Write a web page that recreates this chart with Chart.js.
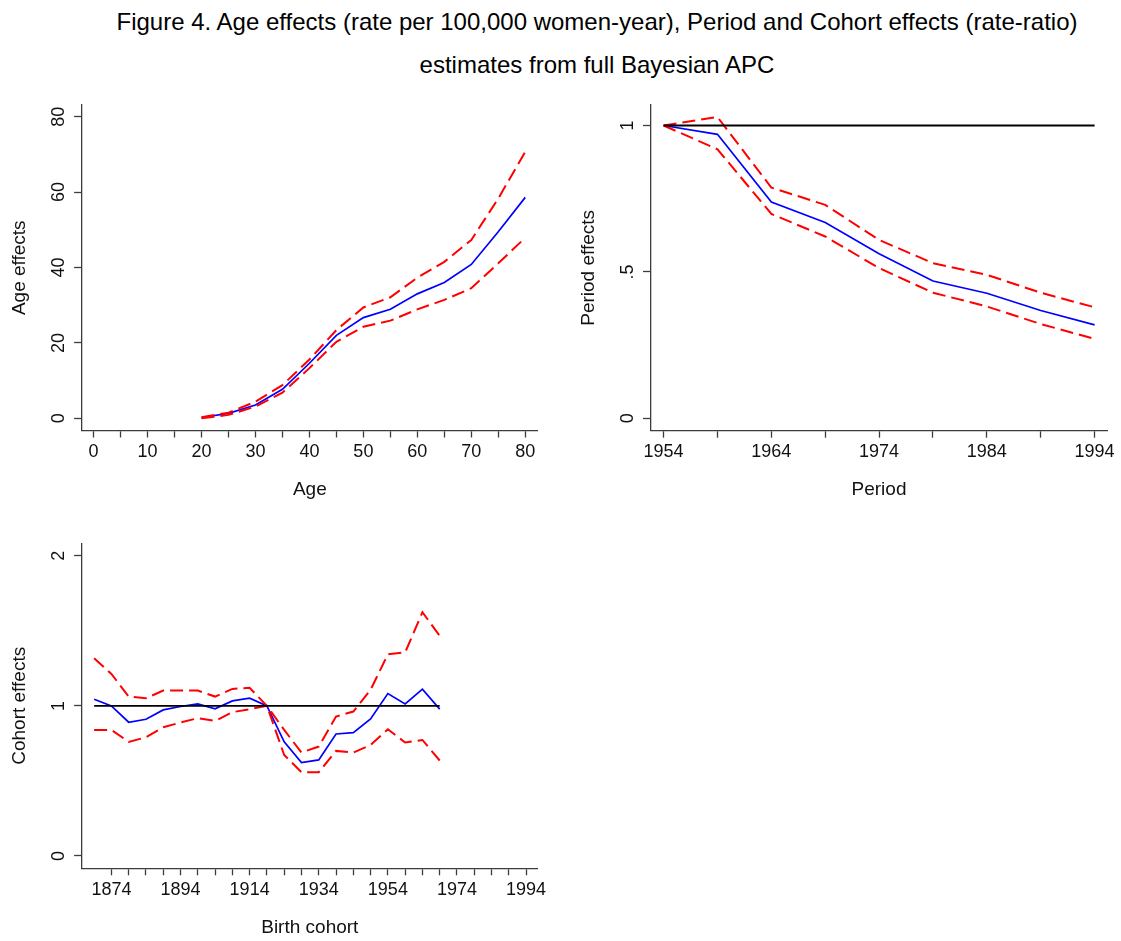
<!DOCTYPE html>
<html>
<head>
<meta charset="utf-8">
<script src="https://cdn.jsdelivr.net/npm/chart.js@4.4.0/dist/chart.umd.min.js"></script>
<style>
html,body{margin:0;padding:0;background:#fff;overflow:hidden;width:1121px;height:941px;}
#title{position:absolute;left:0;top:0;width:1194px;text-align:center;font-family:"Liberation Sans",Arial,sans-serif;font-size:24px;line-height:43px;color:#000;white-space:nowrap;}
canvas{position:absolute;}
</style>
</head>
<body>
<div id="title">Figure 4. Age effects (rate per 100,000 women-year), Period and Cohort effects (rate-ratio)<br>estimates from full Bayesian APC</div>
<canvas id="cA" width="560" height="420" style="left:0px;top:95px"></canvas>
<canvas id="cP" width="561" height="420" style="left:560px;top:95px"></canvas>
<canvas id="cC" width="560" height="411" style="left:0px;top:530px"></canvas>
<script>
// ---------- data ----------
const AGE = [20, 25, 30, 35, 40, 45, 50, 55, 60, 65, 70, 75, 80];
const AGE_EST   = [0.2, 1.3, 3.5, 7.7, 14.6, 22.0, 26.7, 28.9, 33.0, 36.0, 40.8, 49.5, 58.6];
const AGE_UPPER = [0.3, 1.5, 4.4, 8.8, 15.6, 23.4, 29.4, 32.1, 37.3, 41.5, 47.3, 58.3, 70.7];
const AGE_LOWER = [0.0, 0.9, 3.1, 6.8, 13.3, 20.3, 24.3, 25.9, 28.9, 31.4, 34.5, 41.1, 47.9];

const PERIOD = [1954, 1959, 1964, 1969, 1974, 1979, 1984, 1989, 1994];
const PERIOD_EST   = [1.0, 0.970, 0.739, 0.669, 0.562, 0.469, 0.427, 0.368, 0.319];
const PERIOD_UPPER = [1.0, 1.029, 0.788, 0.729, 0.609, 0.530, 0.490, 0.429, 0.379];
const PERIOD_LOWER = [1.0, 0.919, 0.698, 0.621, 0.513, 0.429, 0.382, 0.322, 0.271];
const PERIOD_REF   = [1, 1, 1, 1, 1, 1, 1, 1, 1];

const COHORT = [1869, 1874, 1879, 1884, 1889, 1894, 1899, 1904, 1909, 1914, 1919,
                1924, 1929, 1934, 1939, 1944, 1949, 1954, 1959, 1964, 1969];
const COHORT_EST   = [1.044, 1.000, 0.891, 0.911, 0.973, 0.996, 1.013, 0.980, 1.033, 1.051, 1.000,
                      0.760, 0.622, 0.640, 0.813, 0.822, 0.913, 1.082, 1.013, 1.111, 0.978];
const COHORT_UPPER = [1.318, 1.213, 1.062, 1.051, 1.102, 1.102, 1.102, 1.062, 1.113, 1.120, 1.000,
                      0.840, 0.689, 0.729, 0.929, 0.962, 1.107, 1.344, 1.356, 1.624, 1.467];
const COHORT_LOWER = [0.840, 0.840, 0.760, 0.791, 0.858, 0.889, 0.918, 0.900, 0.958, 0.978, 1.000,
                      0.673, 0.558, 0.558, 0.700, 0.689, 0.740, 0.844, 0.756, 0.773, 0.636];
const COHORT_REF   = COHORT.map(() => 1);

// tick values and labels
const AGE_X_TICKS  = [0, 5, 10, 15, 20, 25, 30, 35, 40, 45, 50, 55, 60, 65, 70, 75, 80];
const AGE_X_LABELS = ['0', '', '10', '', '20', '', '30', '', '40', '', '50', '', '60', '', '70', '', '80'];
const AGE_Y_TICKS  = [0, 20, 40, 60, 80];
const AGE_Y_LABELS = ['0', '20', '40', '60', '80'];

const PER_X_TICKS  = [1954, 1959, 1964, 1969, 1974, 1979, 1984, 1989, 1994];
const PER_X_LABELS = ['1954', '', '1964', '', '1974', '', '1984', '', '1994'];
const PER_Y_TICKS  = [0, 0.5, 1];
const PER_Y_LABELS = ['0', '.5', '1'];

const COH_X_TICKS  = [1874, 1879, 1884, 1889, 1894, 1899, 1904, 1909, 1914, 1919, 1924, 1929,
                      1934, 1939, 1944, 1949, 1954, 1959, 1964, 1969, 1974, 1979, 1984, 1989, 1994];
const COH_X_LABELS = ['1874', '', '', '', '1894', '', '', '', '1914', '', '', '', '1934', '', '', '',
                      '1954', '', '', '', '1974', '', '', '', '1994'];
const COH_Y_TICKS  = [0, 1, 2];
const COH_Y_LABELS = ['0', '1', '2'];

// ---------- styling ----------
const FONT = '"Liberation Sans", Arial, sans-serif';
const AXIS = '#3c3c3c';
const TXT = '#111';

function pts(xs, ys) { return xs.map((x, i) => ({x: x, y: ys[i]})); }

function ds(xs, ys, color, width, dash) {
  return {
    data: pts(xs, ys), borderColor: color, borderWidth: width, borderDash: dash || [],
    pointRadius: 0, fill: false, tension: 0, borderCapStyle: 'butt', borderJoinStyle: 'miter'
  };
}

function xScale(o) {
  return {
    type: 'linear', position: 'bottom', min: o.min, max: o.max, bounds: 'data',
    border: {display: true, color: AXIS, width: 1.3},
    grid: {display: true, drawOnChartArea: false, drawTicks: true, tickLength: 7, color: AXIS, tickColor: AXIS, tickWidth: 1.3},
    ticks: {autoSkip: false, minRotation: 0, maxRotation: 0, padding: 3.7, color: TXT,
            font: {family: FONT, size: 18},
            callback: (v) => { const i = o.ticks.indexOf(v); return i >= 0 ? o.labels[i] : ''; }},
    title: {display: true, text: o.title, color: TXT, font: {family: FONT, size: 19}, padding: {top: 0, bottom: o.titlePad}},
    afterBuildTicks: (s) => { s.ticks = o.ticks.map(v => ({value: v})); },
    afterFit: (s) => { s.height = o.size; s.paddingLeft = 0; s.paddingRight = 0; s.paddingTop = 0; s.paddingBottom = 0; }
  };
}

function yScale(o) {
  return {
    type: 'linear', position: 'left', min: o.min, max: o.max, bounds: 'data',
    border: {display: true, color: AXIS, width: 1.3},
    grid: {display: true, drawOnChartArea: false, drawTicks: true, tickLength: 8, color: AXIS, tickColor: AXIS, tickWidth: 1.3},
    ticks: {autoSkip: false, minRotation: 90, maxRotation: 90, crossAlign: 'center', padding: o.tickPad, color: TXT,
            font: {family: FONT, size: 18},
            callback: (v) => { const i = o.ticks.indexOf(v); return i >= 0 ? o.labels[i] : ''; }},
    title: {display: true, text: o.title, color: TXT, font: {family: FONT, size: 19}, padding: {top: o.titlePad, bottom: 0}},
    afterBuildTicks: (s) => { s.ticks = o.ticks.map(v => ({value: v})); },
    afterFit: (s) => { s.width = o.size; s.paddingLeft = 0; s.paddingRight = 0; s.paddingTop = 0; s.paddingBottom = 0; }
  };
}

function make(id, datasets, xs, ys, pad) {
  return new Chart(document.getElementById(id), {
    type: 'line',
    data: {datasets: datasets},
    options: {
      responsive: false, animation: false, devicePixelRatio: 1,
      layout: {padding: pad},
      plugins: {legend: {display: false}, tooltip: {enabled: false}, title: {display: false}},
      scales: {x: xs, y: ys}
    }
  });
}

const RED = '#ff0000', BLUE = '#0000ff', BLACK = '#000000';
const DASH = [13, 6];

// Age panel
make('cA', [
  ds(AGE, AGE_UPPER, RED, 2, DASH),
  ds(AGE, AGE_LOWER, RED, 2, DASH),
  ds(AGE, AGE_EST, BLUE, 1.7)
],
  xScale({min: -2.13, max: 82.27, ticks: AGE_X_TICKS, labels: AGE_X_LABELS, title: 'Age', titlePad: 13.6, size: 84.5}),
  yScale({min: -3.24, max: 83.1, ticks: AGE_Y_TICKS, labels: AGE_Y_LABELS, title: 'Age effects', titlePad: 8.2, tickPad: 4.6, size: 82.1}),
  {left: 0, top: 10, right: 22.5, bottom: 0});

// Period panel
make('cP', [
  ds(PERIOD, PERIOD_REF, BLACK, 1.8),
  ds(PERIOD, PERIOD_UPPER, RED, 2, DASH),
  ds(PERIOD, PERIOD_LOWER, RED, 2, DASH),
  ds(PERIOD, PERIOD_EST, BLUE, 1.7)
],
  xScale({min: 1952.83, max: 1995.15, ticks: PER_X_TICKS, labels: PER_X_LABELS, title: 'Period', titlePad: 13.6, size: 84.3}),
  yScale({min: -0.0424, max: 1.0701, ticks: PER_Y_TICKS, labels: PER_Y_LABELS, title: 'Period effects', titlePad: 17.2, tickPad: 7.5, size: 91}),
  {left: 0, top: 10, right: 14, bottom: 0});

// Cohort panel
make('cC', [
  ds(COHORT, COHORT_REF, BLACK, 1.8),
  ds(COHORT, COHORT_UPPER, RED, 2, DASH),
  ds(COHORT, COHORT_LOWER, RED, 2, DASH),
  ds(COHORT, COHORT_EST, BLUE, 1.7)
],
  xScale({min: 1865.52, max: 1997.3, ticks: COH_X_TICKS, labels: COH_X_LABELS, title: 'Birth cohort', titlePad: 1.6, size: 72.7}),
  yScale({min: -0.082, max: 2.083, ticks: COH_Y_TICKS, labels: COH_Y_LABELS, title: 'Cohort effects', titlePad: 8.2, tickPad: 9.6, size: 82.1}),
  {left: 0, top: 13.3, right: 22.5, bottom: 0});
</script>
</body>
</html>
